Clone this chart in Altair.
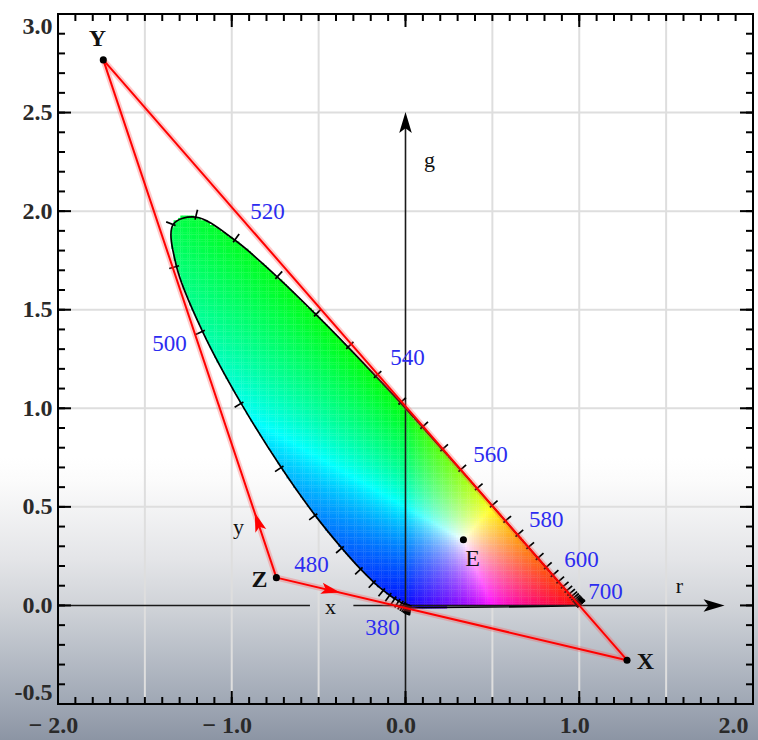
import math
import numpy as np
import pandas as pd
import altair as alt

# ---------------- data ----------------
WAVELENGTHS = list(range(380, 705, 5))
R_COORD = [0.0272, 0.0268, 0.0263, 0.0256, 0.0247, 0.0236, 0.0224, 0.0207, 0.0181, 0.0142,
           0.0088, 0.0012, -0.0084, -0.0213, -0.0390, -0.0618, -0.0909, -0.1281, -0.1821, -0.2584,
           -0.3667, -0.5199, -0.7150, -0.9460, -1.1684, -1.3180, -1.3371, -1.2075, -0.9829, -0.7387,
           -0.5159, -0.3305, -0.1707, -0.0293, 0.0974, 0.2121, 0.3164, 0.4112, 0.4973, 0.5751,
           0.6449, 0.7071, 0.7617, 0.8088, 0.8475, 0.8800, 0.9059, 0.9265, 0.9425, 0.9550,
           0.9649, 0.9731, 0.9797, 0.9850, 0.9888, 0.9918, 0.9938, 0.9952, 0.9965, 0.9974,
           0.9982, 0.9988, 0.9992, 0.9996, 1.0000]
G_COORD = [-0.0115, -0.0114, -0.0114, -0.0113, -0.0112, -0.0110, -0.0109, -0.0104, -0.0094, -0.0076,
           -0.0048, -0.0007, 0.0048, 0.0120, 0.0218, 0.0345, 0.0517, 0.0762, 0.1175, 0.1839,
           0.2906, 0.4568, 0.6996, 1.0248, 1.3905, 1.7194, 1.9318, 1.9698, 1.8534, 1.6663,
           1.4760, 1.3106, 1.1628, 1.0282, 0.9051, 0.7919, 0.6881, 0.5932, 0.5067, 0.4283,
           0.3579, 0.2952, 0.2402, 0.1928, 0.1537, 0.1209, 0.0949, 0.0742, 0.0580, 0.0454,
           0.0354, 0.0272, 0.0205, 0.0152, 0.0113, 0.0083, 0.0062, 0.0048, 0.0035, 0.0026,
           0.0018, 0.0012, 0.0008, 0.0004, 0.0000]

WL_LABELS = ["380", "480", "500", "520", "540", "560", "580", "600", "700"]
WL_LABEL_R = [-0.132, -0.541, -1.358, -0.794, 0.012, 0.489, 0.810, 1.013, 1.151]
WL_LABEL_G = [-0.117, 0.203, 1.324, 1.994, 1.253, 0.761, 0.431, 0.228, 0.066]

PRIM_NAMES = ["X", "Y", "Z"]
PRIM_R = [1.2750, -1.7393, -0.7431]
PRIM_G = [-0.2778, 2.7673, 0.1409]
PRIM_LABEL_R = [1.381, -1.773, -0.840]
PRIM_LABEL_G = [-0.289, 2.872, 0.127]

E_NAME = ["E"]
E_R = [0.3333]
E_G = [0.3333]
E_LABEL_R = [0.386]
E_LABEL_G = [0.233]

AXIS_LETTERS = ["x", "y", "g", "r"]
AXIS_LETTER_R = [-0.432, -0.961, 0.138, 1.577]
AXIS_LETTER_G = [-0.010, 0.400, 2.260, 0.100]

SEGMENTS = [("Y", "X"), ("Y", "Z"), ("Z", "X")]

BLACK_ARROW_R = [0.0, 1.776]
BLACK_ARROW_G = [2.45, 0.0]
BLACK_ARROW_ANGLE = [0, 90]
RED_ARROW_R = [-0.850, -0.430]
RED_ARROW_G = [0.424, 0.076]
RED_ARROW_ANGLE = [341.5, 103.2]

G_AXIS_R = [0.0]
G_AXIS_G0 = [-0.5]
G_AXIS_G1 = [2.46]
R_AXIS_R0 = [-2.0, -0.30]
R_AXIS_R1 = [-0.55, 1.80]

X_LABEL_VALUES = [-2.0, -1.0, 0.0, 1.0, 2.0]
Y_LABEL_VALUES = [-0.5, 0.0, 0.5, 1.0, 1.5, 2.0, 2.5, 3.0]
X_GRID = [-1.5, -1.0, -0.5, 0.5, 1.0, 1.5]
Y_GRID = [0.5, 1.0, 1.5, 2.0, 2.5]
X_TICKS = [round(-2.0 + 0.1 * i, 1) for i in range(41)]
Y_TICKS = [round(-0.5 + 0.1 * i, 1) for i in range(36)]
X_MAJOR = [v for v in X_TICKS if abs(v - round(v)) < 1e-9]
Y_MAJOR = [v for v in Y_TICKS if abs(v * 2 - round(v * 2)) < 1e-9]

BG_BOX = {"x0": [-2.4], "x1": [2.1], "y0": [-0.76], "y1": [0.75]}
FRAME = {"x0": [-2.0], "x1": [2.0], "y0": [-0.5], "y1": [3.0]}

# ---------------- geometry ----------------
W, H = 695, 690
PX_X = W / 4.0
PX_Y = H / 3.5

SX = alt.Scale(domain=[-2.0, 2.0], nice=False, zero=False)
SY = alt.Scale(domain=[-0.5, 3.0], nice=False, zero=False)
FONT = "Liberation Serif"

AX = alt.Axis(values=X_LABEL_VALUES, title=None, grid=False, ticks=False, domain=False,
              labelExpr="(datum.value < 0 ? '\u2212 ' : '') + format(abs(datum.value), '.1f')",
              labelFont=FONT, labelFontSize=24, labelFontWeight="bold", labelColor="#2a2a2a",
              labelPadding=9, labelOffset=-5, labelFlush=False,
              labelAlign={"condition": {"test": "datum.value > 1.5", "value": "right"}, "value": "center"},
              zindex=1)
AY = alt.Axis(values=Y_LABEL_VALUES, title=None, grid=False, ticks=False, domain=False,
              labelExpr="(datum.value < 0 ? '-' : '') + format(abs(datum.value), '.1f')",
              labelFont=FONT, labelFontSize=24, labelFontWeight="bold", labelColor="#2a2a2a",
              labelPadding=6, labelFlush=True, zindex=1)


def X(f):
    return alt.X(f, type="quantitative", scale=SX, axis=AX)


def Y(f):
    return alt.Y(f, type="quantitative", scale=SY, axis=AY)


# ---------------- colour field inside the locus ----------------
# smooth outline used only as the mask of the colour field
def smooth_outline(xs, ys, steps=8):
    P = np.array(list(zip(xs, ys)))
    out = []
    m = len(P)
    for i in range(m - 1):
        p0 = P[max(i - 1, 0)]
        p1, p2 = P[i], P[i + 1]
        p3 = P[min(i + 2, m - 1)]
        for t in np.linspace(0, 1, steps, endpoint=False):
            t2, t3 = t * t, t * t * t
            out.append(0.5 * ((2 * p1) + (-p0 + p2) * t + (2 * p0 - 5 * p1 + 4 * p2 - p3) * t2
                              + (-p0 + 3 * p1 - 3 * p2 + p3) * t3))
    out.append(P[-1])
    return np.array(out)


mask = smooth_outline(R_COORD, G_COORD)
MR, MG = mask[:, 0], mask[:, 1]
DR, DG = 0.013, 0.012
rr = np.arange(-1.36, 1.0, DR) + DR / 2
gg = np.arange(-0.015, 1.99, DG) + DG / 2
RR, GG = np.meshgrid(rr, gg)
px, py = RR.ravel(), GG.ravel()
inside = np.zeros(px.shape, dtype=bool)
nm = len(MR)
for i in range(nm):
    x1, y1 = MR[i], MG[i]
    x2, y2 = MR[(i + 1) % nm], MG[(i + 1) % nm]
    if y1 == y2:
        continue
    cond = (y1 > py) != (y2 > py)
    xint = (x2 - x1) * (py - y1) / (y2 - y1) + x1
    inside ^= cond & (px < xint)
cr, cg = px[inside], py[inside]
rgb = np.stack([cr, cg, 1.0 - cr - cg], axis=1).clip(0, None)
rgb = rgb / rgb.max(axis=1, keepdims=True)
rgb = rgb ** 0.75
hexes = ["#%02x%02x%02x" % tuple(int(round(v * 255)) for v in row) for row in rgb]
cells = pd.DataFrame({
    "x0": np.round(cr - DR * 0.56, 4), "x1": np.round(cr + DR * 0.56, 4),
    "y0": np.round(cg - DG * 0.56, 4), "y1": np.round(cg + DG * 0.56, 4),
    "c": hexes,
})

# ---------------- tables ----------------
n = len(R_COORD)
locus = pd.DataFrame({"wl": WAVELENGTHS, "r": R_COORD, "g": G_COORD, "i": range(n)})
closed = pd.concat([locus, locus.iloc[[0]].assign(i=n)], ignore_index=True)

angles = []
for i in range(n):
    a, b = max(i - 1, 0), min(i + 1, n - 1)
    tx = (R_COORD[b] - R_COORD[a]) * PX_X
    ty = -(G_COORD[b] - G_COORD[a]) * PX_Y
    angles.append(math.degrees(math.atan2(ty, tx)) % 360)
locus_ticks = locus.assign(a=angles)

prim = dict(zip(PRIM_NAMES, zip(PRIM_R, PRIM_G)))
segs = pd.DataFrame({
    "r0": [prim[a][0] for a, b in SEGMENTS], "g0": [prim[a][1] for a, b in SEGMENTS],
    "r1": [prim[b][0] for a, b in SEGMENTS], "g1": [prim[b][1] for a, b in SEGMENTS],
})
points = pd.DataFrame({"r": PRIM_R + E_R, "g": PRIM_G + E_G})
prim_labels = pd.DataFrame({"t": PRIM_NAMES, "r": PRIM_LABEL_R, "g": PRIM_LABEL_G})
e_label = pd.DataFrame({"t": E_NAME, "r": E_LABEL_R, "g": E_LABEL_G})
letters = pd.DataFrame({"t": AXIS_LETTERS, "r": AXIS_LETTER_R, "g": AXIS_LETTER_G})
wl_labels = pd.DataFrame({"t": WL_LABELS, "r": WL_LABEL_R, "g": WL_LABEL_G})
black_arrows = pd.DataFrame({"r": BLACK_ARROW_R, "g": BLACK_ARROW_G, "a": BLACK_ARROW_ANGLE})
red_arrows = pd.DataFrame({"r": RED_ARROW_R, "g": RED_ARROW_G, "a": RED_ARROW_ANGLE})
g_axis = pd.DataFrame({"r": G_AXIS_R, "g0": G_AXIS_G0, "g1": G_AXIS_G1})
r_axis = pd.DataFrame({"r0": R_AXIS_R0, "r1": R_AXIS_R1, "g": [0.0] * len(R_AXIS_R0)})

DART = "M0,-1L0.6,1L0,0.55L-0.6,1Z"

layers = []

grad = alt.LinearGradient(
    gradient="linear", x1=0, x2=0, y1=0, y2=1,
    stops=[alt.GradientStop(color="#ffffff", offset=0.0),
           alt.GradientStop(color="#fbfbfb", offset=0.08),
           alt.GradientStop(color="#e4e5e8", offset=0.34),
           alt.GradientStop(color="#d0d3d8", offset=0.5),
           alt.GradientStop(color="#b9bfc8", offset=0.65),
           alt.GradientStop(color="#a0a8b5", offset=0.82),
           alt.GradientStop(color="#848d9d", offset=1.0)])
layers.append(alt.Chart(pd.DataFrame(BG_BOX)).mark_rect(color=grad).encode(
    x=X("x0"), x2="x1", y=Y("y0"), y2="y1"))

layers.append(alt.Chart(pd.DataFrame({"v": X_GRID})).mark_rule(color="#dedede", strokeWidth=2).encode(x=X("v")))
layers.append(alt.Chart(pd.DataFrame({"v": Y_GRID})).mark_rule(color="#dedede", strokeWidth=2).encode(y=Y("v")))

layers.append(alt.Chart(cells).mark_rect(strokeWidth=0).encode(
    x=X("x0"), x2="x1", y=Y("y0"), y2="y1", color=alt.Color("c:N", scale=None)))

layers.append(alt.Chart(closed).mark_line(color="black", strokeWidth=1.7, interpolate="catmull-rom").encode(
    x=X("r"), y=Y("g"), order="i:Q"))

layers.append(alt.Chart(g_axis).mark_rule(color="#1a1a1a", strokeWidth=1.6).encode(
    x=X("r"), y=Y("g0"), y2="g1"))
layers.append(alt.Chart(r_axis).mark_rule(color="#1a1a1a", strokeWidth=1.6).encode(
    x=X("r0"), x2="r1", y=Y("g")))

layers.append(alt.Chart(locus_ticks).mark_point(
    shape="M0,-1L0,0.35", size=225, filled=False, color="black", strokeWidth=1.7, opacity=1).encode(
    x=X("r"), y=Y("g"), angle=alt.Angle("a:Q", scale=None)))

layers.append(alt.Chart(segs).mark_rule(color="#ff5050", strokeWidth=6, opacity=0.3).encode(
    x=X("r0"), y=Y("g0"), x2="r1", y2="g1"))
layers.append(alt.Chart(segs).mark_rule(color="#ff0000", strokeWidth=2).encode(
    x=X("r0"), y=Y("g0"), x2="r1", y2="g1"))

layers.append(alt.Chart(red_arrows).mark_point(shape=DART, size=361, filled=True, color="#ff0000", opacity=1).encode(
    x=X("r"), y=Y("g"), angle=alt.Angle("a:Q", scale=None)))
layers.append(alt.Chart(black_arrows).mark_point(shape=DART, size=441, filled=True, color="black", opacity=1).encode(
    x=X("r"), y=Y("g"), angle=alt.Angle("a:Q", scale=None)))

layers.append(alt.Chart(points).mark_point(filled=True, size=50, color="black", opacity=1).encode(
    x=X("r"), y=Y("g")))

layers.append(alt.Chart(wl_labels).mark_text(font=FONT, fontSize=23, color="#2c2cf0").encode(
    x=X("r"), y=Y("g"), text="t:N"))
layers.append(alt.Chart(prim_labels).mark_text(font=FONT, fontSize=24, fontWeight="bold", color="#111111").encode(
    x=X("r"), y=Y("g"), text="t:N"))
layers.append(alt.Chart(e_label).mark_text(font=FONT, fontSize=24, color="#111111").encode(
    x=X("r"), y=Y("g"), text="t:N"))
layers.append(alt.Chart(letters).mark_text(font=FONT, fontSize=22, color="#111111").encode(
    x=X("r"), y=Y("g"), text="t:N"))

layers.append(alt.Chart(pd.DataFrame(FRAME)).mark_rect(fillOpacity=0, stroke="black", strokeWidth=2).encode(
    x=X("x0"), x2="x1", y=Y("y0"), y2="y1"))

MINOR, MAJOR = 7, 13
xt = pd.DataFrame({"v": X_TICKS})
xm = pd.DataFrame({"v": X_MAJOR})
yt = pd.DataFrame({"v": Y_TICKS})
ym = pd.DataFrame({"v": Y_MAJOR})
for df, L in ((xt, MINOR), (xm, MAJOR)):
    layers.append(alt.Chart(df).mark_rule(color="black", strokeWidth=2).encode(
        x=X("v"), y=alt.value(H), y2=alt.value(H - L)))
    layers.append(alt.Chart(df).mark_rule(color="black", strokeWidth=2).encode(
        x=X("v"), y=alt.value(0), y2=alt.value(L)))
for df, L in ((yt, MINOR), (ym, MAJOR)):
    layers.append(alt.Chart(df).mark_rule(color="black", strokeWidth=2).encode(
        y=Y("v"), x=alt.value(0), x2=alt.value(L)))
    layers.append(alt.Chart(df).mark_rule(color="black", strokeWidth=2).encode(
        y=Y("v"), x=alt.value(W), x2=alt.value(W - L)))

chart = alt.layer(*layers).properties(
    width=W, height=H,
    autosize=alt.AutoSizeParams(type="none"),
    padding={"left": 58, "top": 14, "right": 5, "bottom": 36},
    background="white",
).configure_view(stroke=None)

chart.save("out.html", embed_options={"renderer": "svg", "actions": False})
